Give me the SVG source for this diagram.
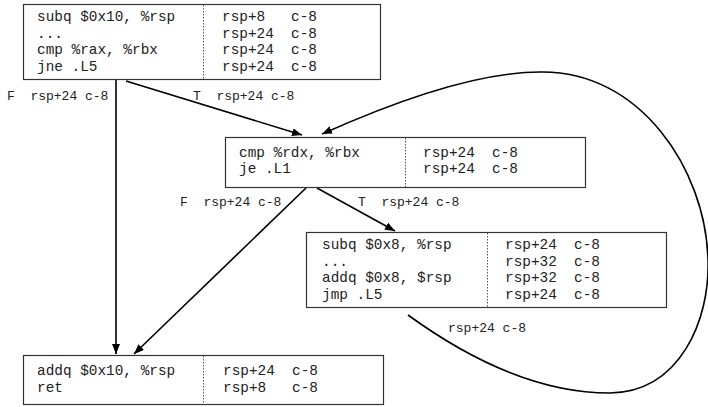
<svg xmlns="http://www.w3.org/2000/svg" width="708" height="407" viewBox="0 0 708 407">
<style>
.box{fill:#fff;stroke:#333;stroke-width:1.2}
.div{stroke:#555;stroke-width:1;stroke-dasharray:1.5,1.5}
.t{font-family:"Liberation Mono","Courier New",monospace;font-size:14.4px;fill:#222;white-space:pre}
.l{font-family:"Liberation Mono","Courier New",monospace;font-size:13px;fill:#222;white-space:pre}
.e{fill:none;stroke:#000;stroke-width:1.6}
</style>
<defs>
<marker id="ah" viewBox="0 0 10 8" refX="10" refY="4" markerWidth="10" markerHeight="8" markerUnits="userSpaceOnUse" orient="auto">
<path d="M0,0 L10,4 L0,8 z" fill="#000"/>
</marker>
</defs>
<rect width="708" height="407" fill="#fff"/>
<g id="connectors">
<line class="e" x1="116" y1="80" x2="116" y2="354" marker-end="url(#ah)"/>
<line class="e" x1="126" y1="81" x2="302" y2="135" marker-end="url(#ah)"/>
<path class="e" d="M408,315 C470,360 540,393 610,393 C680,392 710,320 708,260 C706,170 640,70 540,72 C470,72 380,108 322,134" marker-end="url(#ah)"/>
<line class="e" x1="306" y1="188" x2="134" y2="354" marker-end="url(#ah)"/>
<line class="e" x1="317" y1="188" x2="395" y2="231" marker-end="url(#ah)"/>
<text class="l" x="7" y="100">F  rsp+24 c-8</text>
<text class="l" x="193" y="100">T  rsp+24 c-8</text>
<text class="l" x="180" y="206">F  rsp+24 c-8</text>
<text class="l" x="358" y="206">T  rsp+24 c-8</text>
<text class="l" x="448" y="332">rsp+24 c-8</text>
</g>
<g id="node1">
<rect class="box" x="23.5" y="4.5" width="357" height="75"/>
<line class="div" x1="203.5" y1="5" x2="203.5" y2="79"/>
<text class="t" x="37" y="21">subq $0x10, %rsp</text>
<text class="t" x="37" y="37.5">...</text>
<text class="t" x="37" y="54">cmp %rax, %rbx</text>
<text class="t" x="37" y="70.5">jne .L5</text>
<text class="t" x="222" y="21">rsp+8   c-8</text>
<text class="t" x="222" y="37.5">rsp+24  c-8</text>
<text class="t" x="222" y="54">rsp+24  c-8</text>
<text class="t" x="222" y="70.5">rsp+24  c-8</text>
</g>
<g id="node2">
<rect class="box" x="225.5" y="137.5" width="360" height="50"/>
<line class="div" x1="405.5" y1="138" x2="405.5" y2="187"/>
<text class="t" x="239" y="157">cmp %rdx, %rbx</text>
<text class="t" x="239" y="173">je .L1</text>
<text class="t" x="423" y="157">rsp+24  c-8</text>
<text class="t" x="423" y="173">rsp+24  c-8</text>
</g>
<g id="node3">
<rect class="box" x="306.5" y="232.5" width="360" height="75"/>
<line class="div" x1="487.5" y1="233" x2="487.5" y2="307"/>
<text class="t" x="322" y="249">subq $0x8, %rsp</text>
<text class="t" x="322" y="265.5">...</text>
<text class="t" x="322" y="282">addq $0x8, $rsp</text>
<text class="t" x="322" y="298.5">jmp .L5</text>
<text class="t" x="505" y="249">rsp+24  c-8</text>
<text class="t" x="505" y="265.5">rsp+32  c-8</text>
<text class="t" x="505" y="282">rsp+32  c-8</text>
<text class="t" x="505" y="298.5">rsp+24  c-8</text>
</g>
<g id="node4">
<rect class="box" x="23.5" y="355.5" width="360" height="49"/>
<line class="div" x1="203.5" y1="356" x2="203.5" y2="404"/>
<text class="t" x="37" y="375">addq $0x10, %rsp</text>
<text class="t" x="37" y="391.5">ret</text>
<text class="t" x="223" y="375">rsp+24  c-8</text>
<text class="t" x="223" y="391.5">rsp+8   c-8</text>
</g>
</svg>
